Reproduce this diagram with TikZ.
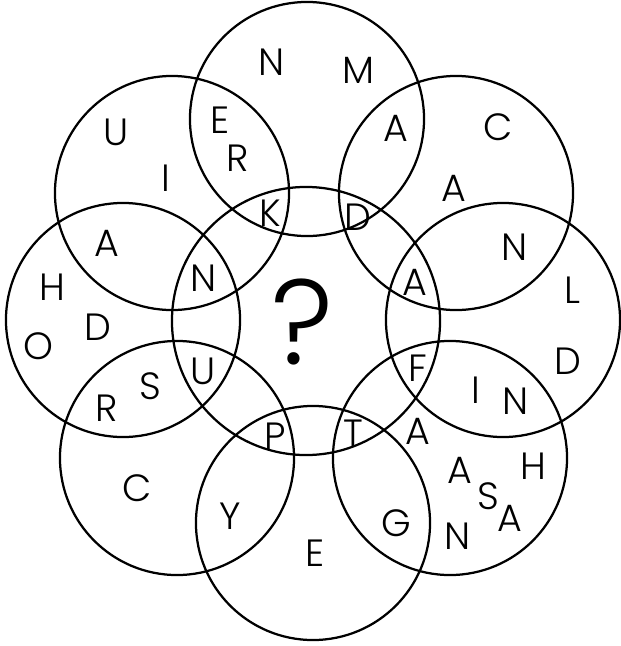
\documentclass[tikz,border=0pt]{standalone}
\usepackage{fontspec}
\setmainfont{Poppins}[UprightFont={* Light}]
\tikzset{
  ring/.style={line width=1.6pt},
  lt/.style={font=\fontsize{27}{27}\selectfont,inner sep=0pt},
  qm/.style={font=\fontsize{86}{86}\selectfont,inner sep=0pt}
}
\begin{document}
\begin{tikzpicture}[x=0.025cm,y=-0.025cm]
  \useasboundingbox (0,0) rectangle (620,646);
  % the ring of circles
  \draw[ring] (306,321) circle[radius=3.35cm];
  \foreach \cx/\cy in {307/119,456/193,503/320,450/458,313/523,177/458,123/320,172/193}
    \draw[ring] (\cx,\cy) circle[radius=2.925cm];
  \node[qm] (q) at (302,322) {?};
  % letters
  \foreach \x/\y/\t [count=\i] in {
      272/62/N,358/70/M,220/120/E,238/158/R,270/213/K,116/132/U,166/178/I,
      396/128/A,498/127/C,454/188/A,358/217/D,515/247/N,415/282/A,572/290/L,
      107/243/A,204/278/N,52/287/H,98/327/D,38/346/O,
      150/386/S,203/371/U,107/408/R,275/436/P,137/488/C,230/516/Y,315/553/E,
      418/368/F,476/390/I,516/401/N,568/361/D,353/433/T,418/431/A,
      460/470/A,488/496/S,510/518/A,533/466/H,396/523/G,458/536/N}
    \node[lt] (l\i) at (\x,\y) {\t};
\end{tikzpicture}
\end{document}
